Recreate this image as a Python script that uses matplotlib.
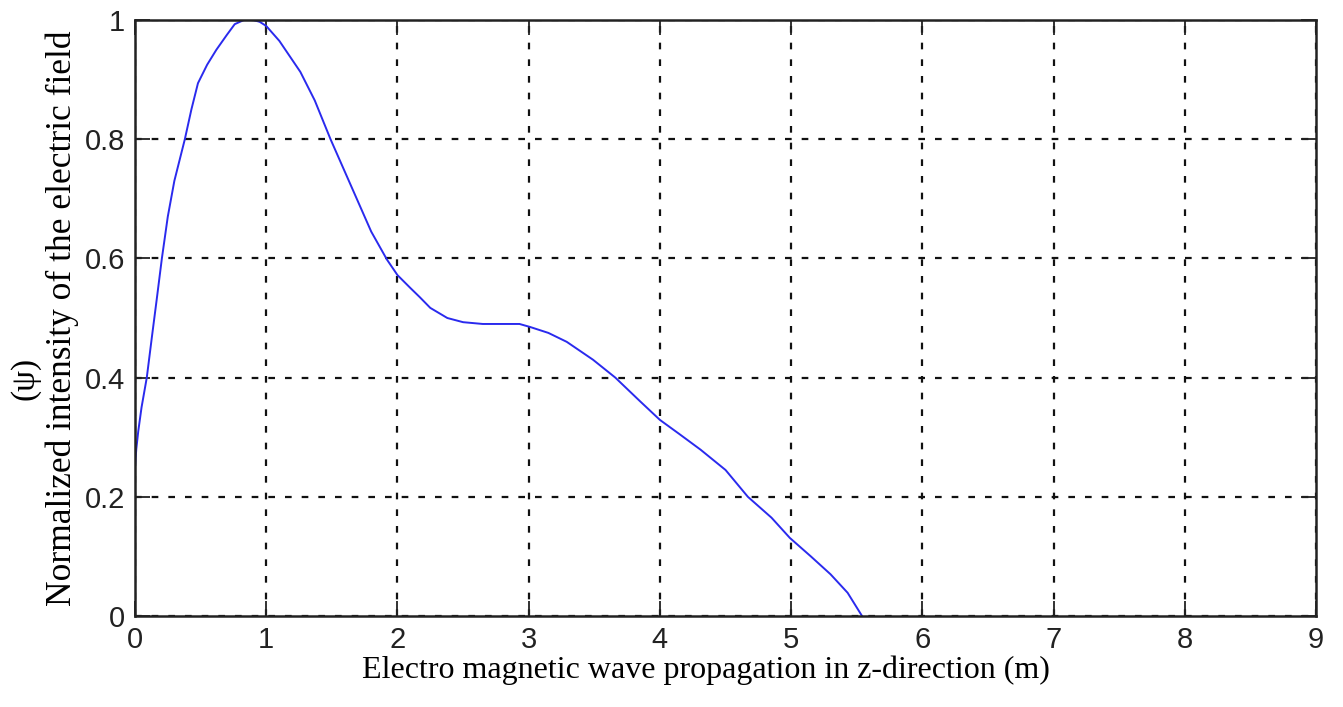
import matplotlib
matplotlib.use('agg')
import matplotlib.pyplot as plt

# values
z_pos = [0.0, 0.01, 0.025, 0.05, 0.09, 0.13, 0.165, 0.205, 0.25, 0.3, 0.38, 0.43, 0.48,
         0.55, 0.62, 0.7, 0.76, 0.83, 0.9, 0.95, 1.0, 1.1, 1.26, 1.37, 1.49, 1.6, 1.7,
         1.8, 1.92, 2.0, 2.1, 2.17, 2.25, 2.38, 2.5, 2.65, 2.78, 2.93, 3.01,
         3.15, 3.29, 3.49, 3.66, 3.85, 4.0, 4.15, 4.31, 4.5, 4.67, 4.85, 4.99,
         5.15, 5.3, 5.43, 5.54]
intensity = [0.25, 0.28, 0.31, 0.35, 0.40, 0.47, 0.53, 0.60, 0.67, 0.73, 0.80, 0.85, 0.894,
             0.925, 0.95, 0.975, 0.993, 1.0, 1.0, 0.997, 0.99, 0.965, 0.913, 0.865, 0.80, 0.745, 0.695,
             0.645, 0.598, 0.572, 0.55, 0.535, 0.517, 0.50, 0.493, 0.49, 0.49, 0.49, 0.485,
             0.475, 0.46, 0.43, 0.40, 0.36, 0.329, 0.305, 0.279, 0.245, 0.20, 0.165, 0.131,
             0.10, 0.07, 0.039, 0.0]

x_ticks = [0, 1, 2, 3, 4, 5, 6, 7, 8, 9]
y_ticks = [0, 0.2, 0.4, 0.6, 0.8, 1.0]
y_tick_labels = ['0', '0.2', '0.4', '0.6', '0.8', '1']

tick_font = ['Liberation Sans Narrow', 'Liberation Sans', 'DejaVu Sans']
label_font = ['Liberation Serif', 'DejaVu Serif']

fig = plt.figure(figsize=(13.43, 7.07), dpi=100)
ax = fig.add_axes([0.1005, 0.1287, 0.8795, 0.843])

ax.plot(z_pos, intensity, color='#2a2aee', linewidth=1.4)

ax.set_xlim(0, 9)
ax.set_ylim(0, 1)
ax.set_xticks(x_ticks)
ax.set_xticklabels([str(t) for t in x_ticks], family=tick_font, fontsize=21)
ax.set_yticks(y_ticks)
ax.set_yticklabels(y_tick_labels, family=tick_font, fontsize=21)

ax.grid(True, color='#111111', linestyle=(0, (3, 4.5)), linewidth=1.6)
ax.tick_params(direction='in', length=11, width=1.3, top=True, right=True,
               pad=7, colors='#222222')
for s in ax.spines.values():
    s.set_linewidth(1.8)
    s.set_color('#222222')

ax.set_xlabel('Electro magnetic wave propagation in z-direction (m)',
              family=label_font, fontsize=23)
ax.xaxis.set_label_coords(0.483, -0.066)
ax.set_ylabel('Normalized intensity of the electric field',
              family=label_font, fontsize=25.5, labelpad=4)
fig.text(0.019, 0.465, '(ψ)', family=label_font, fontsize=24,
         rotation=90, ha='center', va='center')

fig.savefig('out.png', dpi=100)
